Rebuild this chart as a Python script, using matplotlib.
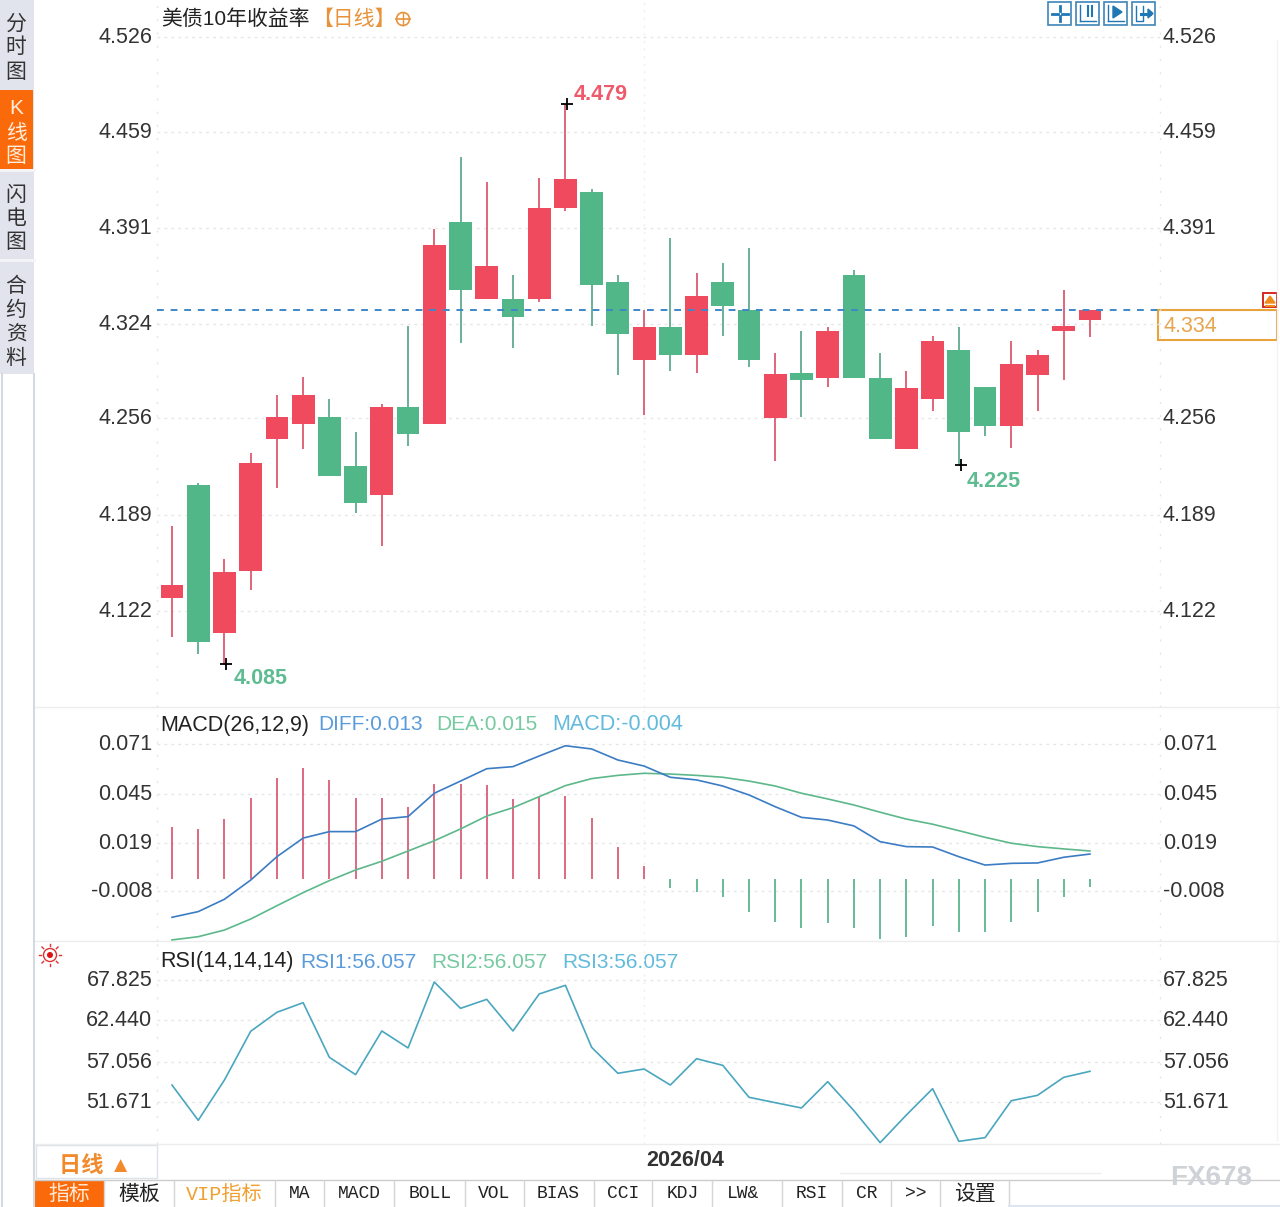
import matplotlib
matplotlib.use("Agg")
import matplotlib.pyplot as plt
from matplotlib.patches import Rectangle, Circle
from matplotlib.transforms import Affine2D

plt.rcParams['font.family'] = ['Liberation Sans', 'Noto Sans CJK SC', 'DejaVu Sans']

# daily candles, oldest first
opens = [4.131, 4.211, 4.1065, 4.150, 4.243, 4.254, 4.259, 4.224, 4.204, 4.266, 4.254, 4.396,
         4.342, 4.342, 4.342, 4.406, 4.417, 4.354, 4.299, 4.322, 4.302, 4.354, 4.334, 4.258,
         4.290, 4.286, 4.359, 4.286, 4.236, 4.271, 4.306, 4.280, 4.252, 4.288, 4.319, 4.327]
highs = [4.182, 4.212, 4.159, 4.233, 4.274, 4.287, 4.271, 4.248, 4.268, 4.323, 4.391, 4.442,
         4.424, 4.359, 4.427, 4.479, 4.419, 4.359, 4.334, 4.385, 4.360, 4.367, 4.378, 4.304,
         4.319, 4.322, 4.362, 4.304, 4.291, 4.316, 4.322, 4.280, 4.312, 4.306, 4.348, 4.334]
lows = [4.104, 4.092, 4.085, 4.137, 4.209, 4.236, 4.217, 4.191, 4.168, 4.238, 4.254, 4.311,
        4.342, 4.307, 4.340, 4.404, 4.323, 4.288, 4.260, 4.291, 4.290, 4.316, 4.294, 4.228,
        4.259, 4.280, 4.286, 4.243, 4.236, 4.263, 4.225, 4.245, 4.237, 4.263, 4.285, 4.315]
closes = [4.140, 4.100, 4.1495, 4.226, 4.259, 4.274, 4.217, 4.198, 4.266, 4.247, 4.380, 4.348,
          4.365, 4.329, 4.406, 4.426, 4.352, 4.317, 4.322, 4.302, 4.344, 4.337, 4.299, 4.289,
          4.285, 4.319, 4.286, 4.243, 4.279, 4.312, 4.248, 4.252, 4.296, 4.302, 4.323, 4.334]

diff = [-.0199, -.0169, -.0104, -.0003, .0120, .0218, .0252, .0252, .0318, .0331, .0454, .0518,
        .0583, .0594, .0650, .0704, .0687, .0629, .0597, .0538, .0524, .0492, .0445, .0383,
        .0327, .0313, .0282, .0199, .0173, .0171, .0120, .0076, .0085, .0087, .0117, .0134]
dea = [-.0318, -.0301, -.0266, -.0208, -.0138, -.0069, -.0006, .0050, .0096, .0150, .0204, .0266,
       .0334, .0378, .0436, .0494, .0531, .0548, .0559, .0555, .0548, .0538, .0518, .0492,
       .0454, .0424, .0392, .0354, .0318, .0291, .0257, .0222, .0191, .0173, .0161, .0150]
macd = [.0275, .0264, .0320, .0431, .0533, .0585, .0524, .0431, .0431, .0383, .0503, .0503,
        .0497, .0422, .0436, .0439, .0322, .0173, .0073, -.0046, -.0067, -.0094, -.0169, -.0222,
        -.0257, -.0231, -.0257, -.0315, -.0304, -.0243, -.0275, -.0275, -.0222, -.0169, -.0094, -.0038]
rsi = [53.95, 49.29, 54.62, 61.05, 63.56, 64.83, 57.61, 55.32, 61.09, 58.85, 67.56, 64.08,
       65.27, 61.09, 65.98, 67.12, 58.93, 55.50, 56.07, 53.95, 57.43, 56.55, 52.33, 51.62,
       50.92, 54.39, 50.56, 46.34, 49.99, 53.47, 46.51, 47.00, 51.88, 52.59, 54.97, 55.76]

price_ticks = [4.526, 4.4596, 4.392, 4.3244, 4.2578, 4.1897, 4.122]
price_labels = ['4.526', '4.459', '4.391', '4.324', '4.256', '4.189', '4.122']
macd_ticks = [.0712, .0450, .0194, -.0059]
macd_labels = ['0.071', '0.045', '0.019', '-0.008']
rsi_ticks = [67.825, 62.54, 57.03, 51.67]
rsi_labels = ['67.825', '62.440', '57.056', '51.671']

last_price = 4.334
month_index = 18
month_label = '2026/04'
tools = ['MA', 'MACD', 'BOLL', 'VOL', 'BIAS', 'CCI', 'KDJ', 'LW&', 'RSI', 'CR', '>>']
tool_x = [300, 359, 430, 494, 558, 623, 683, 743, 812, 867, 916]
tool_seps = [104, 174, 275, 324, 394, 465, 524, 594, 652, 712, 782, 842, 891, 940, 1009]

RED = '#ef4a5d'
GREEN = '#52b788'
ORANGE = '#e8923a'
W, H = 1280, 1207
FS = 15.5


def panel(top, bottom, ylim, ticks, labels):
    ax = fig.add_axes([157 / W, 1 - bottom / H, (1160 - 157) / W, (bottom - top) / H])
    ax.patch.set_visible(False)
    ax.set_xlim(-0.572, 37.67)
    ax.set_ylim(*ylim)
    ax.set_xticks([])
    ax.set_yticks(ticks)
    ax.set_yticklabels(labels)
    ax.tick_params(axis='y', length=0, labelleft=True, labelright=True, labelsize=FS,
                   labelcolor='#333333', pad=3.5)
    for tick in ax.yaxis.get_major_ticks():
        # labels sit a little above their grid lines
        tick.label1.set_transform(tick.label1.get_transform() + Affine2D().translate(0, 2))
        tick.label2.set_transform(tick.label2.get_transform() + Affine2D().translate(-2, 2))
    for s in ax.spines.values():
        s.set_visible(False)
    ax.grid(axis='y', color='#e6e6e6', lw=1, dashes=(2, 3))
    ax.set_axisbelow(True)
    ax.axvline(-0.572, color='#e6e6e6', lw=1, dashes=(1.5, 8), clip_on=False)
    ax.axvline(37.67, color='#e6e6e6', lw=1, dashes=(1.5, 8), clip_on=False)
    ax.axvline(month_index, color='#efefef', lw=1, dashes=(1.5, 4))
    return ax


def chrome_text(x, y, s, **kw):
    kw.setdefault('va', 'center')
    kw.setdefault('fontsize', FS)
    bg.text(x, y, s, **kw)


def draw_chrome():
    bg.set_xlim(0, W)
    bg.set_ylim(H, 0)
    bg.axis('off')
    # side tabs
    bg.add_patch(Rectangle((0, 0), 34, 374, fc='#e1e4ec', ec='none'))
    bg.add_patch(Rectangle((0, 90), 33, 79, fc='#fb6a0a', ec='none'))
    bg.plot([2, 2], [374, 1207], color='#d5dae2', lw=1.5)
    bg.plot([34, 34], [374, 1207], color='#d5dae2', lw=1.5)
    for y in [170, 260]:
        bg.plot([0, 34], [y, y], color='#f4f5f8', lw=2)
    side = [('分', 24), ('时', 47), ('图', 72), ('闪', 195), ('电', 218), ('图', 243),
            ('合', 286), ('约', 310), ('资', 334), ('料', 358)]
    for ch, y in side:
        chrome_text(16, y, ch, ha='center', color='#333333', fontsize=15)
    for ch, y in [('K', 108), ('线', 133), ('图', 157)]:
        chrome_text(16, y, ch, ha='center', color='#ffeedd', fontsize=15)

    # panel borders
    for y in [707, 941, 1144]:
        bg.plot([35, W], [y, y], color='#ececec', lw=1)
    bg.plot([1277, 1277], [40, 1140], color='#f3f3f3', lw=1)

    # headers
    chrome_text(161, 19, '美债10年收益率', color='#222222', fontsize=15)
    chrome_text(312, 19, '【日线】', color=ORANGE, fontsize=15)
    bg.add_patch(Circle((403, 19), 6.5, fc='none', ec=ORANGE, lw=1.2))
    bg.plot([396, 410], [19, 19], color=ORANGE, lw=1.2)
    bg.plot([403, 403], [13, 25], color=ORANGE, lw=1)
    chrome_text(160, 725, 'MACD(26,12,9)', color='#222222')
    chrome_text(318, 725, 'DIFF:0.013', color='#5a9bdc', fontsize=15)
    chrome_text(436, 725, 'DEA:0.015', color='#76c9a0', fontsize=15)
    chrome_text(552, 725, 'MACD:-0.004', color='#62bbdc')
    chrome_text(160, 962, 'RSI(14,14,14)', color='#222222')
    chrome_text(300, 962, 'RSI1:56.057', color='#5a9bdc', fontsize=15)
    chrome_text(431, 962, 'RSI2:56.057', color='#76c9a0', fontsize=15)
    chrome_text(562, 962, 'RSI3:56.057', color='#62bbdc', fontsize=15)

    # blue tool icons
    for x in [1048, 1076, 1104, 1132]:
        bg.add_patch(Rectangle((x, 2), 23, 23, fc='white', ec='#3d85b8', lw=1.2))
    bg.plot([1052, 1058], [13.5, 13.5], color='#1f78b4', lw=2)
    bg.plot([1062, 1068], [13.5, 13.5], color='#1f78b4', lw=2)
    bg.plot([1060, 1060], [6, 11], color='#1f78b4', lw=2)
    bg.plot([1060, 1060], [16, 21], color='#1f78b4', lw=2)
    for x in [1080, 1108]:
        bg.plot([x, x], [5, 21], color='#1f78b4', lw=1)
        bg.plot([x, x + 16], [21, 21], color='#1f78b4', lw=1)
    bg.plot([1088, 1088], [6, 16], color='#1f78b4', lw=1.5)
    bg.plot([1092, 1092], [6, 16], color='#1f78b4', lw=1.5)
    bg.fill([1113, 1113, 1122], [6, 18, 12], color='#1f78b4')
    bg.plot([1136, 1136, 1143, 1143], [6, 21, 21, 6], color='#1f78b4', lw=1)
    bg.plot([1141, 1150], [13.5, 13.5], color='#1f78b4', lw=2.2)
    bg.fill([1148, 1148, 1153], [9, 18, 13.5], color='#1f78b4')

    # last price box
    bg.add_patch(Rectangle((1158, 310), 119, 30, fc='white', ec='#e8a33d', lw=1.5))
    chrome_text(1163, 326, '4.334', color='#e8a550')
    bg.add_patch(Rectangle((1263, 293), 14, 14, fc='white', ec='#d6281e', lw=1.4))
    bg.fill([1265, 1275, 1270], [303, 303, 296], color='#f08a1d')
    bg.plot([1266, 1274], [306, 306], color='#f08a1d', lw=1.5)

    # sun icon next to RSI
    bg.add_patch(Circle((50, 955), 6.5, fc='white', ec='#d33', lw=1))
    bg.add_patch(Circle((50, 955), 3, fc='#e01010', ec='none'))
    for dx, dy in [(-11, 0), (11, 0), (0, -11), (0, 11), (-8, -8), (8, -8), (-8, 8), (8, 8)]:
        bg.plot([50 + dx * 0.8, 50 + dx], [955 + dy * 0.8, 955 + dy], color='#d33', lw=1)

    # bottom bar
    bg.add_patch(Rectangle((36, 1145), 121, 33, fc='white', ec='#dde2e8', lw=1))
    chrome_text(59, 1166, '日线 ▲', color='#f28a2c', fontsize=16, fontweight='bold')
    bg.plot([35, W], [1180, 1180], color='#cccccc', lw=1)
    bg.plot([840, 1100], [1173, 1173], color='#eeeeee', lw=1)
    bg.add_patch(Rectangle((35, 1180), 69, 27, fc='#fb6a0a', ec='none'))
    chrome_text(69, 1194, '指标', ha='center', color='#ffe9d5', fontsize=15)
    chrome_text(139, 1194, '模板', ha='center', color='#222222', fontsize=15)
    chrome_text(224, 1194, 'VIP指标', ha='center', color='#f0a030', fontsize=14.5,
                family=['Liberation Mono', 'Noto Sans CJK SC'])
    chrome_text(975, 1194, '设置', ha='center', color='#222222', fontsize=15)
    for x, t in zip(tool_x, tools):
        chrome_text(x, 1194, t, ha='center', color='#222222', fontsize=13, family='Liberation Mono')
    for x in tool_seps:
        bg.plot([x, x], [1180, 1207], color='#d5d5d5', lw=1)
    bg.plot([1009, W], [1206, 1206], color='#dde6f0', lw=1.5)
    chrome_text(1211, 1178, 'FX678', ha='center', color='#cfd2d6', fontsize=20, fontweight='bold')


fig = plt.figure(figsize=(W / 100, H / 100), dpi=100)
bg = fig.add_axes([0, 0, 1, 1], zorder=0)
draw_chrome()

# candles
ax = panel(0, 707, (4.0544, 4.5524), price_ticks, price_labels)
ax.set_zorder(1)
# the last price box covers the right hand 4.324 label
ax.yaxis.get_major_ticks()[price_labels.index('4.324')].label2.set_visible(False)
x = list(range(len(closes)))
cols = [RED if c >= o else GREEN for o, c in zip(opens, closes)]
wick_cols = ['#dc5a70' if c == RED else '#5faa8c' for c in cols]
ax.vlines(x, lows, highs, colors=wick_cols, lw=1.3, zorder=2)
ax.bar(x, [abs(c - o) for o, c in zip(opens, closes)], bottom=[min(o, c) for o, c in zip(opens, closes)],
       width=0.87, color=cols, zorder=3)
ax.axhline(last_price, color='#3f87c8', lw=1.4, dashes=(3.5, 3.5), zorder=4)

hi = highs.index(max(highs))
lo = lows.index(min(lows))
ax.plot([hi + 0.07, lo + 0.07, 30.07], [highs[hi], lows[lo], lows[30]], ls='none', marker='+',
        ms=9, mew=1.3, color='black', zorder=5)
ax.annotate('%.3f' % highs[hi], (hi, highs[hi]), xytext=(8, 10), textcoords='offset pixels',
            color='#ee5a6c', fontsize=FS, fontweight='bold', va='center')
ax.annotate('%.3f' % lows[lo], (lo, lows[lo]), xytext=(9, -15), textcoords='offset pixels',
            color='#5fbc92', fontsize=FS, fontweight='bold', va='center')
ax.annotate('%.3f' % lows[30], (30, lows[30]), xytext=(8, -17), textcoords='offset pixels',
            color='#5fbc92', fontsize=FS, fontweight='bold', va='center')

# macd
ax2 = panel(708, 941, (-.03237, .09026), macd_ticks, macd_labels)
ax2.set_zorder(1)
ax2.vlines(x, 0, macd, colors=['#d6506a' if m > 0 else '#4fae88' for m in macd], lw=1.2)
ax2.plot(x, dea, color='#5cb88a', lw=1.2)
ax2.plot(x, diff, color='#3b7cc4', lw=1.2)

# rsi
ax3 = panel(942, 1144, (46.16, 72.845), rsi_ticks, rsi_labels)
ax3.set_zorder(1)
ax3.plot(x, rsi, color='#4aa6bf', lw=1.2)
ax3.annotate(month_label, (month_index, 0), xycoords=('data', 'axes fraction'), xytext=(2, -17),
             textcoords='offset pixels', fontsize=FS, fontweight='bold', color='#333333',
             va='center', annotation_clip=False)

fig.savefig('out.png', dpi=100)
